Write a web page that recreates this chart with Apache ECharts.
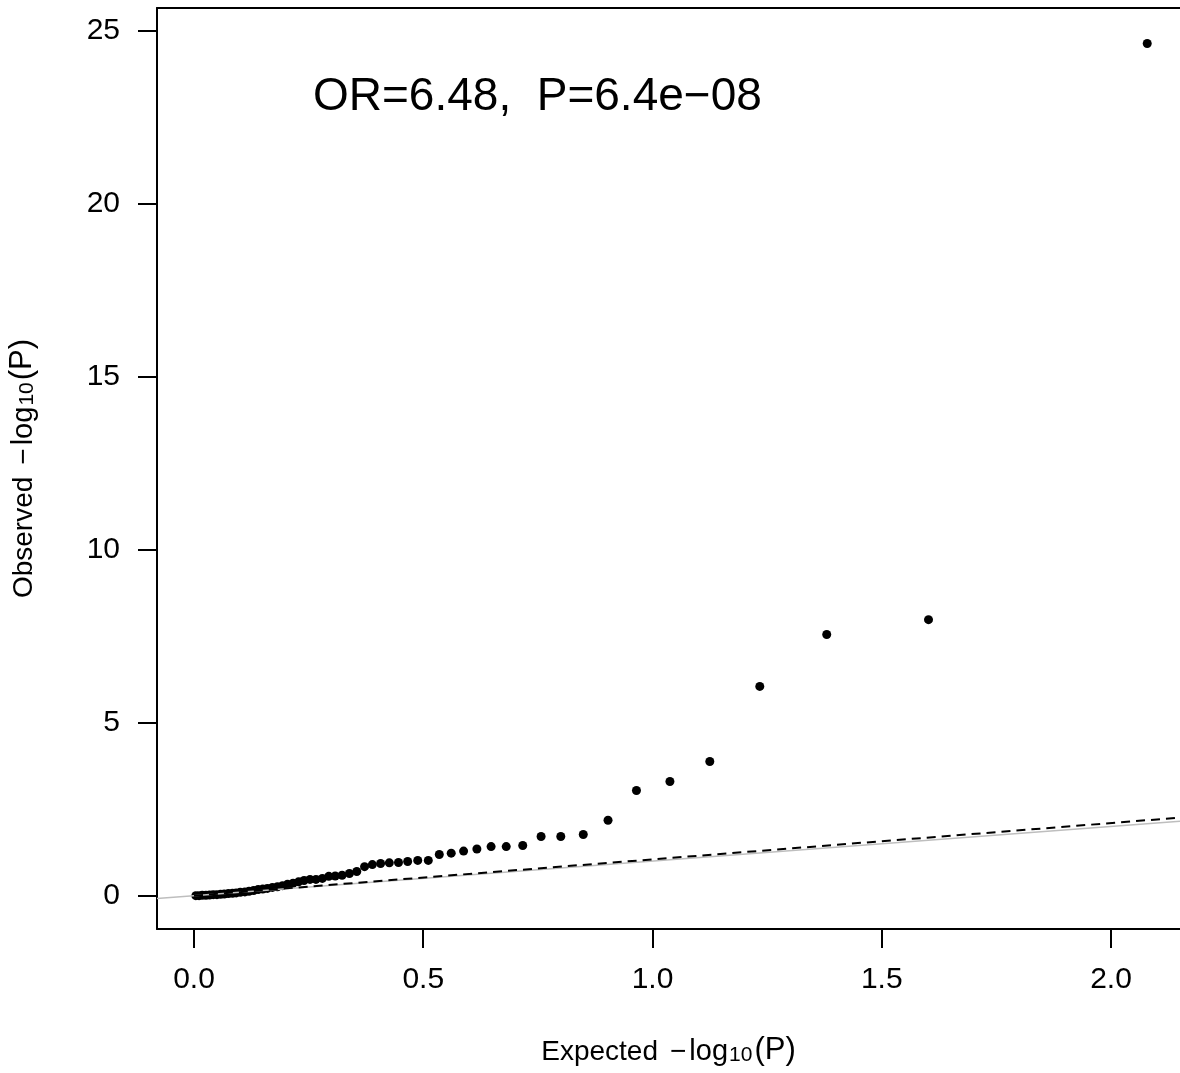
<!DOCTYPE html>
<html><head><meta charset="utf-8">
<script src="https://cdn.jsdelivr.net/npm/echarts@6/dist/echarts.min.js"></script>
<style>html,body{margin:0;padding:0;background:#fff}#c{width:1180px;height:1073px}</style>
</head><body><div id="c"></div>
<script>
// QQ plot data: expected and observed -log10(P)
const expected = [2.079,1.602,1.380,1.234,1.125,1.038,0.965,0.903,0.849,0.800,0.757,0.717,0.681,0.648,0.617,0.588,0.561,0.535,0.511,0.488,0.466,0.446,0.426,0.407,0.389,0.372,0.355,0.339,0.323,0.308,0.294,0.280,0.266,0.253,0.240,0.228,0.216,0.204,0.193,0.182,0.171,0.160,0.150,0.140,0.130,0.120,0.111,0.101,0.092,0.084,0.075,0.066,0.058,0.050,0.042,0.034,0.026,0.018,0.011,0.004];
const observed = [24.64,7.98,7.55,6.05,3.88,3.30,3.04,2.18,1.77,1.71,1.71,1.45,1.42,1.42,1.35,1.29,1.23,1.19,1.02,1.02,0.99,0.96,0.95,0.93,0.90,0.84,0.70,0.64,0.59,0.57,0.56,0.50,0.47,0.47,0.44,0.40,0.36,0.33,0.29,0.26,0.24,0.21,0.19,0.18,0.15,0.13,0.11,0.10,0.08,0.07,0.06,0.05,0.04,0.03,0.03,0.02,0.01,0.01,0.00,0.00];
const xTicks = [0, 0.5, 1, 1.5, 2];
const yTicks = [0, 5, 10, 15, 20, 25];
const annotation = 'OR=6.48,  P=6.4e\u221208';
const lambda = 1.05; // slope of dashed reference line

const xMin = -0.0807, xMax = 2.1505, yMin = -0.963, yMax = 25.665;
const FONT = "'Liberation Sans', Arial, Helvetica, sans-serif";

const points = expected.map((e, i) => [e, observed[i]]);
const axisLineStyle = { color: '#000', width: 2 };

function titleRich() {
  return {
    n: { fontSize: 28, fontFamily: FONT, color: '#000', lineHeight: 40, verticalAlign: 'bottom' },
    m: { fontSize: 28, fontFamily: FONT, color: '#000', lineHeight: 40, verticalAlign: 'bottom', padding: [0, 0, 0, 12] },
    l: { fontSize: 29, fontFamily: FONT, color: '#000', lineHeight: 40, verticalAlign: 'bottom', padding: [0, 1, 0, 3] },
    s: { fontSize: 21, fontFamily: FONT, color: '#000', lineHeight: 34, verticalAlign: 'bottom', padding: [0, 2, 0, 0] },
    p: { fontSize: 31, fontFamily: FONT, color: '#000', lineHeight: 40, verticalAlign: 'bottom' }
  };
}

const chart = echarts.init(document.getElementById('c'), null, { renderer: 'canvas' });
chart.setOption({
  animation: false,
  backgroundColor: '#fff',
  grid: { left: 157, top: 8, right: 0, bottom: 144, containLabel: false, outerBoundsMode: 'none' },
  xAxis: [{
    type: 'value', min: xMin, max: xMax,
    axisLine: { show: true, onZero: false, lineStyle: axisLineStyle },
    axisTick: { show: true, inside: false, length: 19, customValues: xTicks, lineStyle: axisLineStyle },
    axisLabel: { customValues: xTicks, formatter: v => Number(v).toFixed(1), fontSize: 30, color: '#000', margin: 36, fontFamily: FONT },
    splitLine: { show: false },
    name: '{n|Expected}{m|\u2212}{l|log}{s|10}{p|(P)}',
    nameLocation: 'middle', nameGap: 97,
    nameTextStyle: { color: '#000', fontFamily: FONT, rich: titleRich() }
  }, {
    type: 'value', position: 'top', min: xMin, max: xMax,
    axisLine: { show: true, onZero: false, lineStyle: axisLineStyle },
    axisTick: { show: false }, axisLabel: { show: false }, splitLine: { show: false }
  }],
  yAxis: {
    type: 'value', min: yMin, max: yMax,
    axisLine: { show: true, onZero: false, lineStyle: axisLineStyle },
    axisTick: { show: true, inside: false, length: 19, customValues: yTicks, lineStyle: axisLineStyle },
    axisLabel: { customValues: yTicks, fontSize: 30, color: '#000', margin: 37, fontFamily: FONT },
    splitLine: { show: false },
    name: '{n|Observed}{m|\u2212}{l|log}{s|10}{p|(P)}',
    nameLocation: 'middle', nameGap: 119, nameRotate: 90,
    nameTextStyle: { color: '#000', fontFamily: FONT, rich: titleRich() }
  },
  series: [
    {
      type: 'scatter', data: points, symbol: 'circle', symbolSize: 9,
      itemStyle: { color: '#000', opacity: 1 }, z: 2
    },
    {
      type: 'line', data: [[xMin, xMin], [xMax, xMax]], showSymbol: false, symbol: 'none',
      lineStyle: { color: '#bebebe', width: 1.6 }, z: 3, silent: true
    },
    {
      type: 'line', data: [[0, 0], [xMax, xMax * lambda]], showSymbol: false, symbol: 'none',
      lineStyle: { color: '#000', width: 2, type: [9, 6] }, z: 4, silent: true
    }
  ],
  graphic: [{
    type: 'text', left: 313, top: 74,
    style: { text: annotation, font: '46px ' + FONT, fill: '#000' }
  }]
});
</script>
</body></html>
